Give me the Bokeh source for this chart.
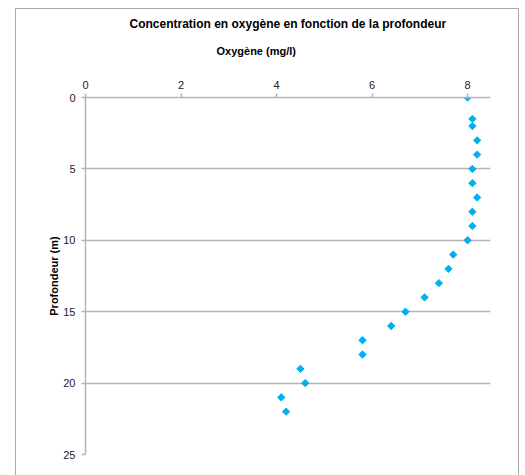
import math
from bokeh.plotting import figure
from bokeh.models import Range1d, FixedTicker, Title, InlineStyleSheet
from bokeh.embed import file_html
from bokeh.resources import INLINE

# Data
depth_m = [0, 1.5, 2, 3, 4, 5, 6, 7, 8, 9, 10, 11, 12, 13, 14, 15, 16, 17, 18, 19, 20, 21, 22]
oxygen_mgl = [8.0, 8.1, 8.1, 8.2, 8.2, 8.1, 8.1, 8.2, 8.1, 8.1, 8.0, 7.7, 7.6, 7.4, 7.1, 6.7, 6.4,
              5.8, 5.8, 4.5, 4.6, 4.1, 4.2]
x_ticks = [0, 2, 4, 6, 8]
y_ticks = [0, 5, 10, 15, 20, 25]

title_text = "Concentration en oxygène en fonction de la profondeur"
x_label = "Oxygène (mg/l)"
y_label = "Profondeur (m)"

FONT = "Liberation Sans"
GRID = "#b4b4b4"

p = figure(width=509, height=459, output_backend="svg", toolbar_location=None,
           x_axis_location="above",
           x_range=Range1d(0, 8.48), y_range=Range1d(25, 0),
           min_border_left=85, min_border_right=19, min_border_top=97, min_border_bottom=5)
p.outline_line_color = None
p.background_fill_color = "white"
p.border_fill_color = "white"

# axes
xa = p.xaxis[0]
xa.ticker = FixedTicker(ticks=x_ticks)
ya = p.yaxis[0]
ya.ticker = FixedTicker(ticks=y_ticks)
for ax in (xa, ya):
    ax.axis_line_color = GRID
    ax.axis_line_width = 1.5
    ax.major_tick_line_color = GRID
    ax.major_tick_line_width = 1.5
    ax.major_tick_out = 4
    ax.major_tick_in = 0
    ax.minor_tick_line_color = None
    ax.major_label_text_font = FONT
    ax.major_label_text_font_size = "11px"
    ax.major_label_text_color = "#222222"
xa.major_label_standoff = 5
ya.major_label_standoff = 6

# invisible spacer label between the top tick labels and the x-axis title
xa.axis_label = " "
xa.axis_label_text_font_size = "1px"
xa.axis_label_standoff = 15

ya.axis_label = y_label
ya.axis_label_text_font = FONT
ya.axis_label_text_font_size = "11px"
ya.axis_label_text_font_style = "bold"
ya.axis_label_text_color = "black"
ya.axis_label_standoff = 0

p.xgrid.grid_line_color = None
p.ygrid.ticker = FixedTicker(ticks=y_ticks)
p.ygrid.grid_line_color = GRID
p.ygrid.grid_line_width = 1.5

p.scatter(oxygen_mgl, depth_m, marker="square", angle=math.pi / 4, size=5.2,
          fill_color="#00b0f0", line_color="#00b0f0")

# x-axis title and main title stacked above the axis
p.add_layout(Title(text=x_label, align="left", offset=131, standoff=4,
                   text_font=FONT, text_font_size="11px", text_font_style="bold",
                   text_color="black"), "above")
p.add_layout(Title(text=title_text, align="left", offset=44, standoff=19,
                   text_font=FONT, text_font_size="12px", text_font_style="bold",
                   text_color="black"), "above")

# outer chart border (decorative frame around the whole chart)
p.stylesheets = [InlineStyleSheet(css="""
:host { position: relative; }
:host::after {
  content: ''; position: absolute; left: 15px; top: 8px; right: -10px; bottom: -16px;
  border: 1px solid #a8a8a8; border-bottom: none; pointer-events: none;
}
""")]

open("out.html", "w").write(file_html(p, INLINE))
